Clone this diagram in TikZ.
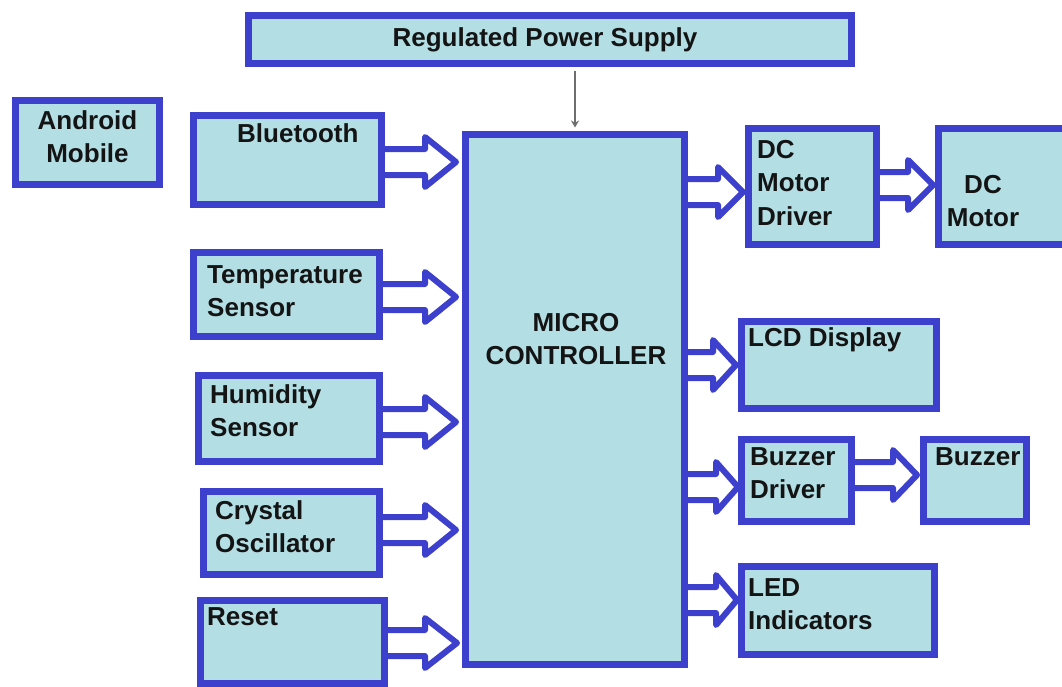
\documentclass[tikz,border=0pt]{standalone}
\usepackage{fontspec}
\setmainfont{Liberation Sans}
\usetikzlibrary{arrows.meta,calc}
\definecolor{boxfill}{RGB}{178,222,228}
\definecolor{boxline}{RGB}{60,64,205}
\definecolor{txtcol}{RGB}{20,20,20}
\definecolor{thingray}{RGB}{110,110,110}
\tikzset{
  box/.style={draw=boxline, fill=boxfill, line width=7pt, inner sep=0pt},
  txt/.style={font=\fontsize{26}{33.5}\selectfont\bfseries, text=txtcol, inner sep=0pt},
  blk/.style={draw=boxline, fill=white, line width=6pt, line join=round},
  supply/.style={draw=thingray, line width=1.5pt, -{Stealth[length=7pt,width=8pt]}, shorten <=3.5pt, shorten >=3.5pt},
}
\newcommand{\blockarrow}[4]{% x0, xh, xt, c
  \draw[blk] (#1,#4-13) -- (#2,#4-13) -- (#2,#4-25) -- (#3,#4) -- (#2,#4+25) -- (#2,#4+13) -- (#1,#4+13);
}
\begin{document}
\begin{tikzpicture}[x=1pt,y=-1pt]
\clip (0,0) rectangle (1062,686);
\fill[white] (0,0) rectangle (1062,686);

% block arrows (drawn first; box borders cover their tails)
\blockarrow{378}{425}{456}{162}
\blockarrow{378}{425}{456}{297}
\blockarrow{378}{425}{456}{422}
\blockarrow{378}{425}{456}{530}
\blockarrow{382}{425}{457}{643}
\blockarrow{682}{718}{743}{192}
\blockarrow{874}{908}{933}{185}
\blockarrow{682}{713}{736}{365}
\blockarrow{682}{716}{738}{487}
\blockarrow{849}{893}{917}{475}
\blockarrow{682}{716}{737}{600}

% boxes
\node[box, minimum width=603pt, minimum height=48pt] (rps) at (550,39.5) {};
\node[box, minimum width=144pt, minimum height=84pt] (and) at (87.5,142.5) {};
\node[box, minimum width=188pt, minimum height=89pt] (bt) at (287.5,160) {};
\node[box, minimum width=219pt, minimum height=530pt] (mc) at (575,399.5) {};
\node[box, minimum width=186pt, minimum height=84pt] (temp) at (286.5,294.5) {};
\node[box, minimum width=181pt, minimum height=86pt] (hum) at (289,418.5) {};
\node[box, minimum width=176pt, minimum height=83pt] (xtal) at (291.5,533) {};
\node[box, minimum width=184pt, minimum height=83pt] (rst) at (292.5,642) {};
\node[box, minimum width=128pt, minimum height=116pt] (dcmd) at (812.5,186.5) {};
\node[box, minimum width=135pt, minimum height=116pt] (dcm) at (1006,186.5) {};
\node[box, minimum width=195pt, minimum height=87pt] (lcd) at (839,365) {};
\node[box, minimum width=110pt, minimum height=82pt] (bzd) at (796.5,480.5) {};
\node[box, minimum width=103pt, minimum height=82pt] (bz) at (975,480.5) {};
\node[box, minimum width=193pt, minimum height=88pt] (led) at (838,610.5) {};

% thin supply arrow
\draw[supply] (rps.south -| mc.north) -- (mc.north);

% texts
\node[txt, anchor=base, align=center] (rps-t) at (545,46) {Regulated Power Supply};
\node[txt, anchor=north, align=center] (and-t) at (87.5,110) {Android\\Mobile};
\node[txt, anchor=base west, align=left] (bt-t) at (237,142) {Bluetooth};
\node[txt, anchor=north west, align=left] (temp-t) at (207,265) {Temperature\\Sensor};
\node[txt, anchor=north west, align=left] (hum-t) at (210,384) {Humidity\\Sensor};
\node[txt, anchor=north west, align=left] (xtal-t) at (215,500) {Crystal\\Oscillator};
\node[txt, anchor=base west, align=left] (rst-t) at (207,625) {Reset};
\node[txt, anchor=north, align=center] (mc-t) at (576,313) {MICRO\\CONTROLLER};
\node[txt, anchor=north west, align=left] (dcmd-t) at (757,140) {DC\\Motor\\Driver};
\node[txt, anchor=north, align=center] (dcm-t) at (983,175) {DC\\Motor};
\node[txt, anchor=base west, align=left] (lcd-t) at (748,346) {LCD Display};
\node[txt, anchor=north west, align=left] (bzd-t) at (750,447) {Buzzer\\Driver};
\node[txt, anchor=base west, align=left] (bz-t) at (935,465) {Buzzer};
\node[txt, anchor=north west, align=left] (led-t) at (748,578) {LED\\Indicators};
\end{tikzpicture}
\end{document}
